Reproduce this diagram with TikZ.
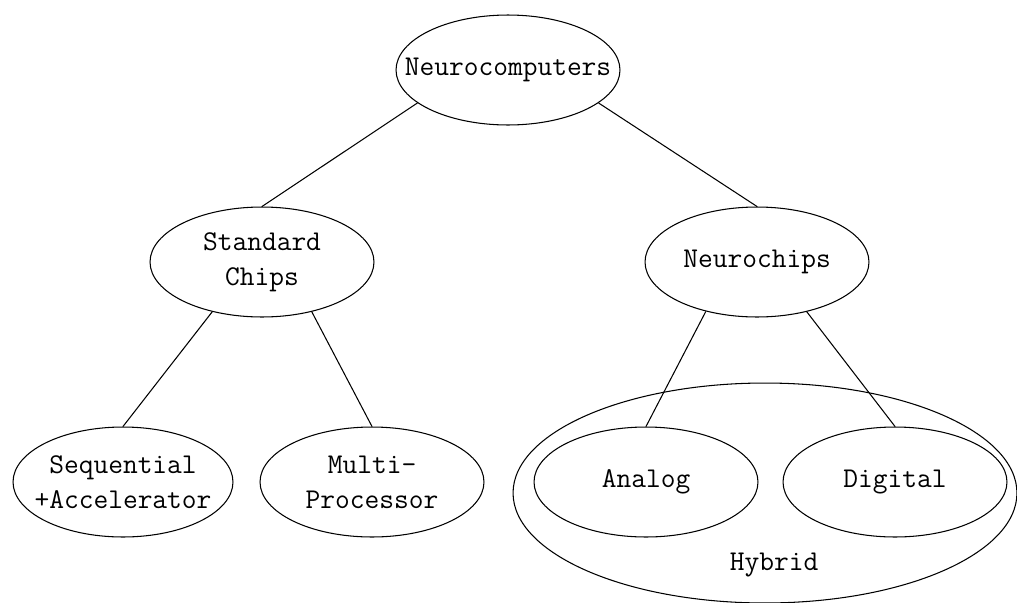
\documentclass[tikz,border=0pt]{standalone}
\usepackage{fontspec}
\usetikzlibrary{shapes.geometric}

\begin{document}
\begin{tikzpicture}[
	x=0.02cm, y=-0.02cm,
	unit/.style={
		ellipse,
		draw=black,
		line width=0.6pt,
		minimum width=4.48cm,
		minimum height=2.2cm,
		inner xsep=-1.6cm,
		inner ysep=0pt,
		align=center,
		font=\ttfamily\fontsize{16.3}{20}\selectfont},
	group/.style={
		ellipse,
		draw=black,
		line width=0.6pt,
		minimum width=10.08cm,
		minimum height=4.4cm},
	link/.style={line width=0.6pt}
	]
	\useasboundingbox (0,0) rectangle (1017,602);
	
	% the dashed-looking outer ring
	\node[group] (hybrid) at (765,493) {};
	\node[font=\ttfamily\fontsize{16.3}{20}\selectfont] (hybridtxt) at (774,565) {Hybrid};
	
	\node[unit] (nc) at (508,70) {Neurocomputers};
	\node[unit] (std) at (262,262) {Standard\\Chips};
	\node[unit] (nchip) at (757,262) {Neurochips};
	\node[unit,minimum width=4.4cm] (seq) at (123,482) {Sequential\\+Accelerator};
	\node[unit] (multi) at (372,482) {Multi-\\Processor};
	\node[unit] (analog) at (646,482) {Analog};
	\node[unit] (digital) at (895,482) {Digital};
	
	\foreach \i/\j in {% from/to
		nc.200/std.north,
		nc.340/nchip.north,
		std.225/seq.north,
		std.315/multi.north,
		nchip.224/analog.north,
		nchip.315/digital.north}
	\draw [link] (\i) -- (\j);
	
\end{tikzpicture}
\end{document}
